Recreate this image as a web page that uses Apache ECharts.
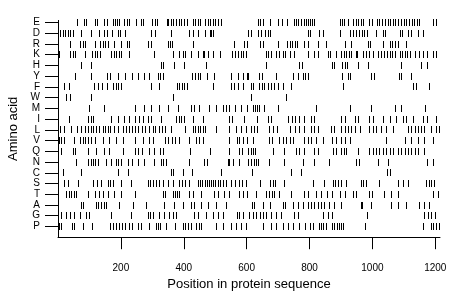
<!DOCTYPE html>
<html>
<head>
<meta charset="utf-8">
<script src="https://cdn.jsdelivr.net/npm/echarts@6/dist/echarts.min.js"></script>
<style>html,body{margin:0;padding:0;background:#fff;}#chart{width:460px;height:299px;}</style>
</head>
<body>
<div id="chart"></div>
<script>
const aminoAcids = ['E','D','R','K','H','Y','F','W','M','I','L','V','Q','N','C','S','T','A','G','P'];
const xTickValues = [200, 400, 600, 800, 1000, 1200];

const posE = [62,83,91,119,126,149,158,176,183,189,197,213,221,229,250,264,271,300,311,318,347,353,361,368,377,385,394,403,411,430,438,446,453,470,478,485,493,502,509,520,639,645,653,677,701,713,730,751,759,766,775,783,791,796,802,809,815,897,904,910,924,939,948,956,965,973,990,999,1016,1024,1033,1041,1050,1058,1067,1075,1084,1092,1101,1109,1117,1126,1134,1143,1151,1194,1204];
const posD = [3,9,17,24,33,41,48,75,105,133,149,158,172,192,200,215,298,311,361,417,432,446,470,485,489,493,605,616,639,647,660,669,677,796,804,833,844,897,931,939,950,958,967,975,984,1014,1035,1043,1088,1096,1114,1123,1146,1162];
const posR = [41,73,80,88,119,136,145,152,160,179,202,221,229,289,298,350,358,364,430,562,594,602,645,653,701,730,738,745,754,762,785,796,828,854,913,934,987,995,1035,1056,1064,1073,1083,1109];
const posK = [1,5,41,48,56,86,109,119,126,136,170,179,187,196,202,229,308,366,385,398,406,425,446,462,466,478,493,517,555,565,574,584,591,600,663,671,679,695,703,716,724,738,751,796,817,828,860,868,886,902,910,918,927,935,948,952,971,982,992,1003,1019,1030,1040,1048,1056,1064,1072,1088,1096,1105,1113,1122,1136,1151,1162,1175,1194,1204];
const posH = [2,75,107,329,337,372,403,472,663,769,777,872,881,905,913,920,955,987,1093,1157,1175];
const posY = [56,107,158,168,192,215,236,255,274,292,319,326,334,428,438,446,453,474,499,552,573,589,602,607,642,650,695,748,764,780,787,796,905,924,931,998,1006,1086,1094,1125];
const posF = [22,35,117,128,141,158,176,186,194,202,298,324,379,387,395,403,411,493,552,562,573,589,614,621,642,650,658,669,679,688,701,716,743,908,1130,1141,1183];
const posW = [27,41,107,366,616,727];
const posM = [101,149,245,276,297,324,350,382,425,435,451,483,504,525,536,546,565,584,602,621,628,635,642,656,701,822,929,998,1072,1093,1170];
const posI = [38,96,105,112,170,192,213,229,245,260,271,287,298,329,377,385,393,403,430,462,546,555,594,635,671,679,732,745,756,769,783,807,817,902,913,945,955,990,1003,1035,1056,1077,1098,1109,1132,1162,1175,1204];
const posL = [9,20,43,62,75,88,96,105,112,123,133,144,151,160,168,179,192,207,218,229,236,245,255,268,278,292,303,311,322,332,343,361,406,430,438,446,453,462,470,504,546,568,584,599,616,624,635,674,685,698,738,754,769,783,807,817,828,870,881,902,913,924,934,945,961,992,1003,1014,1030,1045,1067,1114,1125,1136,1146,1157,1167,1189,1204,1212];
const posV = [1,4,11,20,54,73,80,88,96,105,119,144,165,186,207,245,271,292,305,343,353,364,375,385,417,440,451,462,546,570,578,589,602,621,674,681,706,716,727,738,748,785,796,807,822,844,872,886,902,913,929,1045,1104,1125,1146,1167,1194];
const posQ = [3,11,48,56,96,123,149,165,207,245,255,268,292,308,326,337,421,485,546,576,587,605,614,621,628,685,722,759,769,785,817,828,875,886,902,910,918,955,992,1003,1014,1024,1035,1045,1056,1067,1083,1093,1104,1114,1125,1136,1146,1167];
const posN = [59,96,105,112,119,128,154,170,186,194,202,225,236,255,276,308,329,337,345,417,467,474,541,546,557,578,607,616,624,632,639,674,720,780,817,865,950,958,1019,1051,1175,1194];
const posC = [17,75,192,223,361,368,398,428,520,618,743,775,1048,1056];
const posS = [20,33,66,112,126,139,160,168,176,202,234,287,295,304,313,322,334,350,366,387,396,406,417,446,453,459,470,474,481,488,493,502,509,517,525,536,552,565,576,587,599,645,677,685,692,720,812,849,875,883,893,902,918,966,973,982,1024,1083,1098,1114,1173,1181,1189,1199];
const posT = [27,35,43,52,59,96,119,133,144,160,181,202,245,334,343,368,375,379,385,419,430,456,499,509,531,546,576,589,602,632,663,674,681,690,706,743,783,796,822,838,857,872,897,913,939,948,990,1001,1040,1061,1083,1194,1210];
const posA = [1,75,80,123,130,139,147,154,197,239,282,340,372,398,425,435,456,478,504,536,618,626,653,677,716,724,748,764,780,796,807,817,828,838,849,865,879,902,966,969,998,1061,1083,1109,1151,1167,1181];
const posG = [1,11,27,40,54,72,91,101,170,234,287,294,303,324,340,354,366,377,435,446,472,494,510,525,570,578,589,610,623,631,644,653,663,679,695,711,753,764,846,859,873,983,1167,1177,1188,1202];
const posP = [4,11,46,54,80,110,167,176,186,197,205,216,227,237,255,266,290,313,319,326,345,375,398,407,414,425,441,449,457,504,525,552,568,584,600,653,679,695,716,732,748,767,788,803,814,831,838,846,854,873,880,888,894,902,907,979,1162,1188,1195,1204,1212];

const rowPositions = [posE,posD,posR,posK,posH,posY,posF,posW,posM,posI,posL,posV,posQ,posN,posC,posS,posT,posA,posG,posP];
const rowValues = aminoAcids.map((_, i) => i + 1);

const points = [];
rowPositions.forEach((arr, i) => { arr.forEach(p => points.push([p, i + 1])); });

const chart = echarts.init(document.getElementById('chart'), null, {renderer: 'canvas'});
const font = "'Liberation Sans', Arial, sans-serif";
chart.setOption({
  animation: false,
  backgroundColor: '#fff',
  textStyle: {fontFamily: font, color: '#000'},
  grid: {left: 58, right: 20, top: 20.4, bottom: 61.8, containLabel: false, outerBoundsMode: 'none'},
  xAxis: {
    type: 'value', min: 0, max: 1215,
    axisLine: {show: true, onZero: false, lineStyle: {color: '#000', width: 1}},
    axisTick: {show: true, inside: false, length: 12, customValues: xTickValues, lineStyle: {color: '#000', width: 1}},
    axisLabel: {show: true, customValues: xTickValues, formatter: v => String(v), margin: 26, fontSize: 10, color: '#000', fontFamily: font},
    splitLine: {show: false},
    name: 'Position in protein sequence', nameLocation: 'middle', nameGap: 35,
    nameTextStyle: {fontSize: 13, color: '#000', fontFamily: font}
  },
  yAxis: {
    type: 'value', inverse: true, min: 0.8, max: 21,
    axisLine: {show: true, onZero: false, lineStyle: {color: '#000', width: 1}},
    axisTick: {show: true, inside: false, length: 13, customValues: rowValues, lineStyle: {color: '#000', width: 1}},
    axisLabel: {show: true, customValues: rowValues, formatter: v => aminoAcids[Math.round(v) - 1] || '', margin: 18, fontSize: 10, color: '#000', fontFamily: font},
    splitLine: {show: false},
    name: 'Amino acid', nameLocation: 'middle', nameGap: 37,
    nameTextStyle: {fontSize: 13, color: '#000', fontFamily: font}
  },
  series: [{
    type: 'custom', silent: true,
    encode: {x: 0, y: 1},
    data: points,
    renderItem: function (params, api) {
      const pt = api.coord([api.value(0), api.value(1)]);
      return {
        type: 'rect',
        shape: {x: Math.floor(pt[0]), y: Math.round(pt[1] - 3.5), width: 1, height: 7},
        style: {fill: '#000'}
      };
    }
  }]
});
</script>
</body>
</html>
